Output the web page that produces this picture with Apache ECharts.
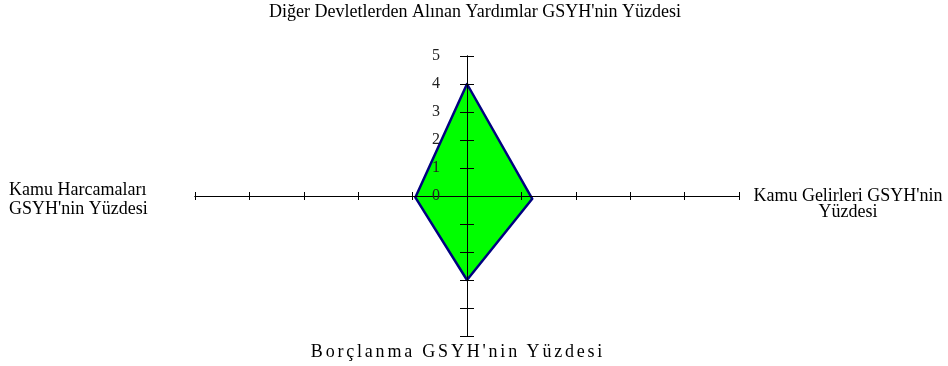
<!DOCTYPE html>
<html>
<head>
<meta charset="utf-8">
<script src="https://cdn.jsdelivr.net/npm/echarts@6/dist/echarts.min.js"></script>
<style>
  body { margin: 0; background: #fff; }
  #wrap { position: relative; width: 948px; height: 366px; }
  #chart { width: 948px; height: 366px; }
  #bottomName {
    position: absolute; left: 0; width: 916px; top: 341px;
    text-align: center; font: 18px "Liberation Serif", "Times New Roman", serif;
    letter-spacing: 2.8px; color: #000;
  }
</style>
</head>
<body>
<div id="wrap">
  <div id="chart"></div>
  <div id="bottomName">Borçlanma GSYH'nin Yüzdesi</div>
</div>
<script>
// diamond corners: x = horizontal axis value, y = vertical axis value
var cornerX = [0, 1.2, 0, -0.95];
var cornerY = [4, -0.1, -3, -0.05];
var axisMin = -5;
var axisMax = 5;

var serif = '"Liberation Serif", "Times New Roman", serif';

var myChart = echarts.init(document.getElementById('chart'));

function xAx(inside) {
  return {
    type: 'value', min: axisMin, max: axisMax, interval: 1, position: 'bottom',
    axisLine: { onZero: true, onZeroAxisIndex: 0, lineStyle: { color: '#000', width: 1 } },
    axisTick: { show: true, inside: inside, length: 4, lineStyle: { color: '#000' } },
    axisLabel: { show: false },
    splitLine: { show: false },
    z: 10
  };
}
// vertical axes are shifted into the middle of the grid (544 / 2 = 272)
function yAx(inside, labels) {
  return {
    type: 'value', min: axisMin, max: axisMax, interval: 1, position: 'left',
    offset: -272,
    axisLine: { onZero: false, lineStyle: { color: '#000', width: 1 } },
    axisTick: { show: true, inside: inside, length: 7, lineStyle: { color: '#000' } },
    axisLabel: {
      show: labels, margin: 27, color: '#222', fontSize: 16, fontFamily: serif,
      formatter: function (v) { return v >= 0 ? v : ''; }
    },
    splitLine: { show: false },
    z: 10
  };
}

var option = {
  animation: false,
  grid: { left: 195, right: 209, top: 56, bottom: 30 },
  xAxis: [xAx(true), xAx(false)],
  yAxis: [yAx(true, true), yAx(false, false)],
  graphic: [
    {
      type: 'text', x: 475, y: 12,
      style: { text: "Diğer Devletlerden Alınan Yardımlar GSYH'nin Yüzdesi", align: 'center', verticalAlign: 'middle', font: '18px ' + serif, fill: '#000' }
    },
    {
      type: 'text', x: 9, y: 200,
      style: { text: 'Kamu Harcamaları\nGSYH\'nin Yüzdesi', align: 'left', verticalAlign: 'middle', lineHeight: 19, font: '18px ' + serif, fill: '#000' }
    },
    {
      type: 'text', x: 848, y: 204,
      style: { text: 'Kamu Gelirleri GSYH\'nin\nYüzdesi', align: 'center', verticalAlign: 'middle', lineHeight: 16, font: '18px ' + serif, fill: '#000' }
    }
  ],
  series: [
    {
      type: 'custom',
      xAxisIndex: 0,
      yAxisIndex: 0,
      clip: false,
      z: 1,
      data: cornerX.map(function (x, i) { return [x, cornerY[i]]; }),
      renderItem: function (params, api) {
        if (params.dataIndex !== 0) return;
        var pts = cornerX.map(function (x, i) { return api.coord([x, cornerY[i]]); });
        return {
          type: 'polygon',
          shape: { points: pts },
          style: { fill: '#00ff00', stroke: '#000080', lineWidth: 2.5, lineJoin: 'round' }
        };
      }
    }
  ]
};
myChart.setOption(option);
</script>
</body>
</html>
